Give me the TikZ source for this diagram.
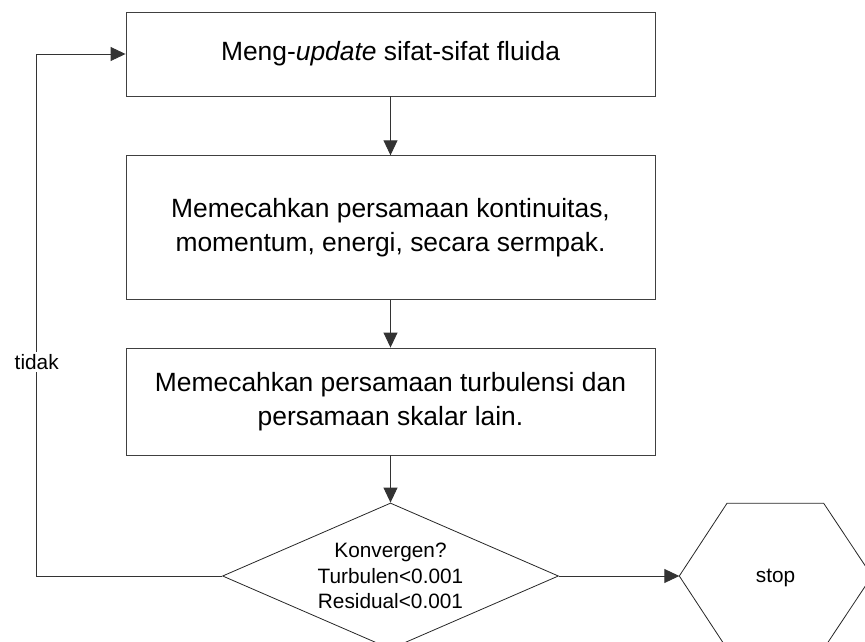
\documentclass[tikz,border=0pt]{standalone}
\usepackage{fontspec}
\setmainfont{Liberation Sans}
\usetikzlibrary{arrows.meta,shapes.geometric}
\begin{document}
\begin{tikzpicture}[x=1pt,y=-1pt,
  box/.style={draw=black!75, line width=0.9pt, minimum width=529pt, inner sep=0pt, align=center, font=\fontsize{26.4}{33.5}\selectfont},
  small/.style={font=\fontsize{20.8}{25.5}\selectfont, align=center, inner sep=1pt},
  shapeline/.style={draw=black!85, line width=0.8pt},
  link/.style={draw=black!80, line width=0.9pt, -{Triangle[length=15pt,width=14pt]}}]
\useasboundingbox (0,0) rectangle (865,642);
% process boxes
\node[box, minimum height=84pt] (b1) at (390.5,54) {Meng-\textit{update} sifat-sifat fluida};
\node[box, minimum height=143.5pt] (b2) at (390.5,227.5) {Memecahkan persamaan kontinuitas,\\momentum, energi, secara sermpak.};
\node[box, minimum height=107pt] (b3) at (390.5,401.5) {Memecahkan persamaan turbulensi dan\\persamaan skalar lain.};
% decision
\node[shapeline, shape=diamond, aspect=2.3, minimum width=336pt, minimum height=146pt, inner sep=0pt] (dia) at (390.5,576) {};
\node[small] (diatext) at (390.5,576) {Konvergen?\\Turbulen<0.001\\Residual<0.001};
% stop hexagon
\coordinate (hw) at (679.3,576);
\coordinate (hnw) at (727,503.3);
\coordinate (hne) at (823.7,503.3);
\coordinate (he) at (872,576);
\coordinate (hse) at (823.7,648.7);
\coordinate (hsw) at (727,648.7);
\draw[shapeline] (hw) -- (hnw) -- (hne) -- (he) -- (hse) -- (hsw) -- cycle;
\node[small] (stop) at (775.5,578) {stop};
% connectors
\draw[link] (b1.south) -- (b2.north);
\draw[link] (b2.south) -- (b3.north);
\draw[link] (b3.south) -- (dia.north);
\draw[link] (dia.east) -- (hw);
\coordinate (lb) at (36.7,576);
\coordinate (lt) at (36.7,54);
\draw[link] (dia.west) -- (lb) -- (lt) -- (b1.west);
\node[small, fill=white, inner sep=2pt] (tidak) at (36.7,362) {tidak};
\end{tikzpicture}
\end{document}
